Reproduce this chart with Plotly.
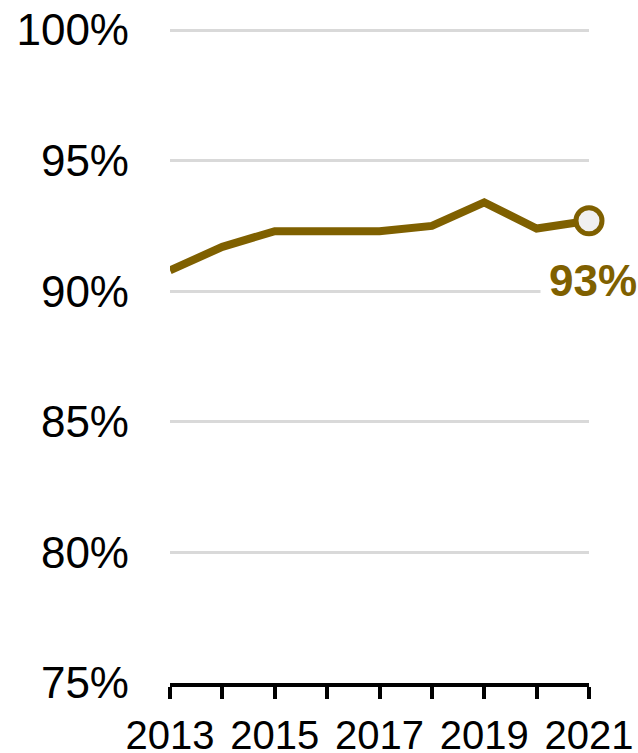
import plotly.graph_objects as go

years = [2013, 2014, 2015, 2016, 2017, 2018, 2019, 2020, 2021]
values = [90.8, 91.7, 92.3, 92.3, 92.3, 92.5, 93.4, 92.4, 92.7]
y_ticks = [75, 80, 85, 90, 95, 100]
y_tick_text = ["75%", "80%", "85%", "90%", "95%", "100%"]
x_ticks = [2013, 2015, 2017, 2019, 2021]
last_label = "93%"

color = "#7f6000"

fig = go.Figure()
fig.add_trace(go.Scatter(
    x=years, y=values, mode="lines",
    line=dict(color=color, width=8),
    hoverinfo="skip", cliponaxis=False,
))
fig.add_trace(go.Scatter(
    x=[years[-1]], y=[values[-1]], mode="markers",
    marker=dict(size=26, color="#f0f0f0", line=dict(color=color, width=5)),
    hoverinfo="skip", cliponaxis=False,
))
fig.add_annotation(
    x=years[-1], y=values[-1], text=f"<b>{last_label}</b>",
    showarrow=False, xanchor="center", yanchor="middle",
    xshift=4, yshift=-60, bgcolor="white", borderpad=8,
    font=dict(family="Liberation Sans, Arial", size=44, color=color),
)

fig.update_layout(
    width=638, height=753,
    margin=dict(l=170, r=49, t=17, b=70, autoexpand=False),
    paper_bgcolor="white", plot_bgcolor="white",
    showlegend=False,
    font=dict(family="Liberation Sans, Arial", color="black"),
)
fig.update_xaxes(
    range=[2013, 2021],
    tickmode="array", tickvals=years,
    ticktext=[str(y) if y in x_ticks else "" for y in years],
    ticks="outside", ticklen=12, tickwidth=4, tickcolor="black",
    showline=True, linecolor="black", linewidth=4,
    showgrid=False, zeroline=False, automargin=False,
    tickfont=dict(size=40), ticklabelstandoff=2,
)
fig.update_yaxes(
    range=[75, 100.5],
    tickmode="array", tickvals=y_ticks, ticktext=y_tick_text,
    showgrid=True, gridcolor="#d9d9d9", gridwidth=3,
    showline=False, zeroline=False, ticks="", automargin=False,
    tickfont=dict(size=44), ticklabelstandoff=40,
)

fig.write_html("out.html")
